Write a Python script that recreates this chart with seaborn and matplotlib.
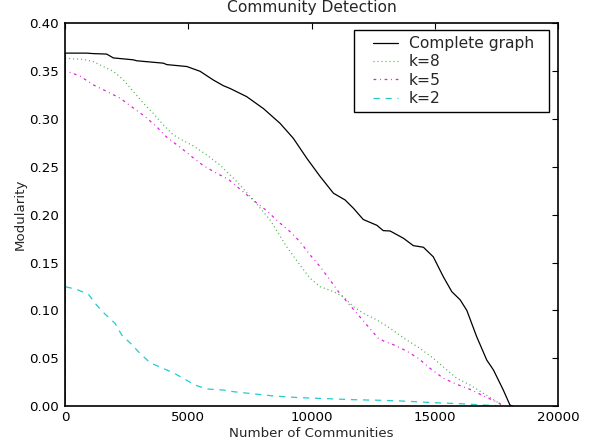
"""
Community detection: modularity vs. number of communities.
"""

import matplotlib
matplotlib.use('Agg')
import matplotlib.pyplot as plt
import seaborn as sns
from matplotlib.lines import Line2D
from matplotlib.legend_handler import HandlerLine2D

sns.set_style('white')
plt.rcParams['font.family'] = ['DejaVu Sans']

# Complete graph
full_x = [0, 0, 880, 1150, 1690, 1960, 2770, 2910, 3990, 4130, 4940, 5480, 6010,
          6420, 6700, 7370, 8050, 8720, 9260, 9810, 10350, 10890, 11360, 11700,
          12100, 12650, 12910, 13190, 13730, 14130, 14540, 14940, 15350, 15690,
          16030, 16300, 16700, 17110, 17380, 17780, 18050, 18150]
full_y = [0.0, 0.369, 0.369, 0.3685, 0.368, 0.364, 0.362, 0.361, 0.3585, 0.357,
          0.355, 0.350, 0.341, 0.335, 0.332, 0.3235, 0.311, 0.2957, 0.280, 0.259,
          0.240, 0.2225, 0.2155, 0.2068, 0.195, 0.189, 0.1834, 0.183, 0.1754,
          0.1677, 0.166, 0.156, 0.135, 0.1196, 0.111, 0.100, 0.0725, 0.048,
          0.0377, 0.0167, 0.001, 0.0]

# k=8
k8_x = [0, 0, 340, 740, 1150, 1550, 1960, 2370, 2770, 3180, 3580, 3990, 4390,
        4800, 5200, 5750, 6290, 6970, 7640, 8320, 8990, 9530, 9940, 10350, 10890,
        11290, 11700, 12100, 12650, 13190, 13860, 14400, 14940, 15490, 15890,
        16430, 16970, 17510, 17780]
k8_y = [0.0, 0.3637, 0.363, 0.3625, 0.360, 0.355, 0.350, 0.341, 0.329, 0.3166,
        0.306, 0.294, 0.2835, 0.2775, 0.272, 0.2626, 0.252, 0.2346, 0.2155,
        0.1946, 0.1666, 0.1475, 0.1336, 0.1248, 0.1196, 0.1143, 0.1039, 0.097,
        0.090, 0.0813, 0.069, 0.0603, 0.0499, 0.0377, 0.029, 0.022, 0.0133,
        0.0045, 0.0]

# k=5
k5_x = [0, 0, 610, 1150, 1690, 2230, 2700, 3250, 3720, 4130, 4670, 5140, 5610,
        6150, 6630, 7230, 7710, 8180, 8650, 9130, 9530, 9940, 10350, 10750,
        11090, 11490, 11900, 12300, 12710, 12980, 13250, 13860, 14330, 14810,
        15350, 15890, 16500, 17040, 17580, 17770]
k5_y = [0.0, 0.3507, 0.345, 0.3358, 0.329, 0.322, 0.313, 0.3026, 0.292, 0.281,
        0.2706, 0.2608, 0.2514, 0.2434, 0.237, 0.224, 0.2137, 0.2043, 0.1928,
        0.1823, 0.1719, 0.158, 0.1457, 0.1318, 0.1196, 0.1074, 0.0952, 0.083,
        0.0708, 0.0673, 0.0649, 0.0575, 0.0499, 0.0394, 0.029, 0.0227, 0.0167,
        0.0097, 0.0035, 0.0]

# k=2
k2_x = [0, 0, 470, 950, 1280, 1620, 2030, 2300, 2700, 3040, 3450, 3920, 4390,
        4870, 5270, 5750, 6420, 6830, 7440, 8450, 9530, 10620, 11700, 12780,
        13860, 14940, 16030, 17000, 17500]
k2_y = [0.0, 0.1248, 0.122, 0.1168, 0.1056, 0.0962, 0.0865, 0.0743, 0.0645,
        0.0551, 0.0453, 0.040, 0.0348, 0.0279, 0.022, 0.0178, 0.0167, 0.015,
        0.0133, 0.0105, 0.0087, 0.0077, 0.0066, 0.006, 0.005, 0.0035, 0.0024,
        0.001, 0.0005]

series = [
    ('Complete graph', full_x, full_y, 'black', None),
    ('k=8', k8_x, k8_y, '#3cb43c', (0.8, 2.4)),
    ('k=5', k5_x, k5_y, '#dd22dd', (2.2, 3.0, 0.7, 3.0)),
    ('k=2', k2_x, k2_y, '#22cccc', (5.0, 4.6)),
]

fig = plt.figure(figsize=(5.99, 4.43), dpi=100)
ax = fig.add_axes([0.1085, 0.0835, 0.8231, 0.8635])

for name, xs, ys, color, dash in series:
    sns.lineplot(x=xs, y=ys, ax=ax, color=color, linewidth=0.9,
                 label=name, estimator=None, sort=False)
    if dash is not None:
        ax.lines[-1].set_dashes(dash)

ax.set_xlim(0, 20000)
ax.set_ylim(0, 0.40)
ax.set_xticks([0, 5000, 10000, 15000, 20000])
ax.set_yticks([0.0, 0.05, 0.10, 0.15, 0.20, 0.25, 0.30, 0.35, 0.40])
ax.set_yticklabels([f'{v:.2f}' for v in ax.get_yticks()])
ax.tick_params(direction='in', length=4, width=0.8, top=True, right=True,
               labelsize=9.6, colors='black')
ax.tick_params(axis='x', pad=3.5)
ax.tick_params(axis='y', pad=4.3)
for sp in ax.spines.values():
    sp.set_linewidth(1.2)
    sp.set_color('black')

ax.set_xlabel('Number of Communities', fontsize=9.6, labelpad=2)
ax.set_ylabel('Modularity', fontsize=9.6, labelpad=2)
ax.set_title('Community Detection', fontsize=11.2, pad=8)

leg = ax.legend(loc='upper left', bbox_to_anchor=(0.586, 0.0, 0.396, 0.983),
                mode='expand', borderaxespad=0, fontsize=11.2, frameon=True,
                fancybox=False, framealpha=1, handlelength=3.3,
                handletextpad=-0.18, labelspacing=0.22, borderpad=0.39,
                handler_map={Line2D: HandlerLine2D(marker_pad=0.83, numpoints=2)})
leg.get_frame().set_edgecolor('black')
leg.get_frame().set_linewidth(1.0)

plt.savefig('out.png', dpi=100)
